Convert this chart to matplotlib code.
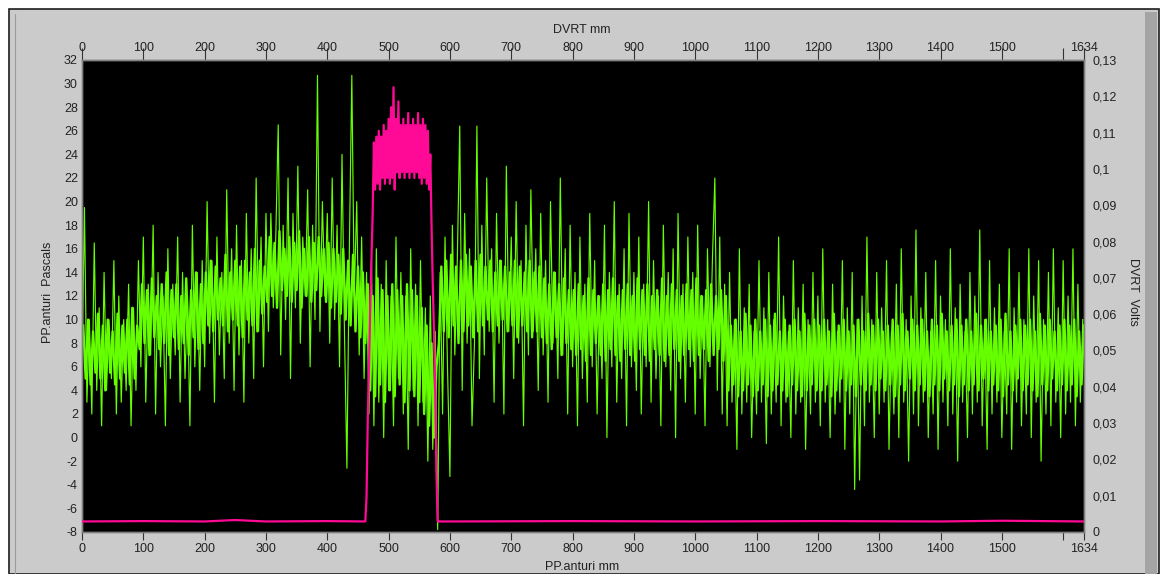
import numpy as np
import matplotlib
matplotlib.use("Agg")
import matplotlib.pyplot as plt
from matplotlib.patches import Rectangle
from matplotlib.lines import Line2D

plt.rcParams['font.family'] = ['Liberation Sans', 'DejaVu Sans']
plt.rcParams['axes.unicode_minus'] = False

# PP.anturi (Pascals), peaks and dips, one reading every 4 mm, 0 .. 1632 mm
green_0 = [6, 19.5, 3, 10, 2, 16.5, 4, 11, 1, 14, 4, 10, 5, 15, 2, 12, 3, 10, 4, 13, 1, 11, 4,
           15, 6, 17, 3, 13, 7, 18, 2, 14, 6, 12, 1, 16, 5, 13, 7, 17, 3, 14, 5, 12, 1, 18, 6, 14, 4, 15,
           6, 20, 8, 15, 3, 17, 7, 14, 5, 21, 8, 16, 4, 18, 7, 15, 3, 19, 8, 16, 5, 22, 9, 17, 6, 19,
           9, 19, 11, 17, 26.5, 7, 18, 10, 22, 5, 19, 11, 23, 8, 17, 12, 21, 6, 18, 10, 30.7, 9, 20, 12]
green_400 = [19, 8, 22, 10, 18, 6, 24, 9, -2.6, 16, 30.7, 12, 20, 7, 17, 5,
             14, 2, 15, 1,
             16, 3, 13, 0, 15, 4, 12, 1, 17, 5, 14, 2, 12, -1, 16, 4, 13, 1, 15, 3, 11,
             -2, 12, -1, 9, -7.8,
             14, 2, 17, 6, -3.3, 18, 7, 15, 26.4, 4, 19, 8, 16, 1, 8, 26.4, 5,
             18, 7, 22, 9, 16, 3, 19, 8, 15, 2, 23, 9, 17, 5, 20, 8, 15, 1, 18, 7, 21, 9, 16, 4, 19,
             7, 15, 3, 20, 8, 14, 5, 22, 7, 16, 2, 18]
green_800 = [6, 14, 1, 17, 5, 13, 3, 19, 6, 15, 2, 12, 5, 18, 0, 14, 6, 20, 3, 13, 5, 16, 1, 19,
             6, 14, 4, 17, 2, 13, 6, 20, 3, 15, 5, 12, 1, 18, 6, 14, 4, 16, 0, 19, 5, 13, 3, 17, 6,
             14, 2, 18, 5, 12, 1, 16, 6, 15, 22, 4, 17, 2, 13,
             1, 14, 3, 10, -1, 16, 2, 11, 3, 13, 0, 9, 2, 15, 3, 11, -0.5, 14, 2, 10, 3, 17, 1, 12,
             3, 9, 0, 15, 2, 11, 3, 13, -1, 10, 2, 14, 3]
green_1200 = [12, 1, 16, 3, 10, 0, 13, 2, 9, 3, 15, -1, 11, 2, 14, -4.4, 10, -3.6, 12, 1, 17, 3,
              10, 0, 14, 2, 11, 3, 15, -1, 9, 2, 13, 0, 16, 3, 10, -2, 12, 2, 17.6, 1, 11, 3, 14,
              0, 9, 2, 15, -1, 12, 3, 10, 1, 16, 2, 11, -2, 13, 3, 9, 0, 14, 2, 12, 3, 17.6, 1,
              10, -1, 15, 2, 11, 3, 13, 0, 9, 2, 16, -1, 11, 3, 14, 1, 10, 2, 16, 0, 12, 3, 15,
              -2, 10, 2, 14, 1, 16, 3, 11, 0, 15, 2, 12, 3, 16, 1, 13, 3, 10]

# PP.anturi dense band, readings in between (2, 6, 10 .. 1634 mm)
core_0 = [9.5, 5, 10, 4.5, 9, 5.5, 10.5, 5, 9.5, 4, 10, 5.5, 9, 4.5, 10.5, 5, 9.5, 5.5, 10, 4.5, 11, 5, 9.5,
          7.5, 13, 8, 12.5, 7, 13.5, 8.5, 12, 7.5, 13, 8, 14, 7, 12.5, 8.5, 13, 7.5, 12, 8, 13.5, 7, 12.5,
          8.5, 14, 7.5, 13, 8,
          14, 9.5, 15, 9, 14.5, 10, 13.5, 9.5, 15.5, 9, 14, 10, 15, 9.5, 14.5, 8.5, 15, 10, 14, 9.5, 16,
          9, 15, 10.5, 14.5,
          11.5, 17, 12, 16.5, 11, 17.5, 12.5, 16, 12, 17, 11.5, 16.5, 12.5, 17.5, 11, 16, 12, 17, 11.5,
          16.5, 12.5, 17, 12, 16, 11.5]
core_400 = [16.5, 11, 16, 11.5, 15.5, 10.5, 16, 10, 15, 9.5, 15.5, 9, 14.5, 8.5, 14, 8,
            13, 4, 12, 3.5, 13.5, 4.5, 12.5, 3, 12, 4, 13, 3.5, 12.5, 4.5, 12, 3, 13, 4, 12.5, 3.5,
            12, 3, 11, 2, 9.5, 1, 8, 0, 6,
            8, 14.5, 9, 15, 8.5, 15.5, 9.5, 14.5, 8, 15, 9, 15.5, 9.5, 14.5, 8.5, 15, 9, 15.5,
            9.5, 14.5, 10, 15, 9, 14, 9.5, 15, 10, 14.5, 9, 14, 9.5, 15, 8.5, 14.5, 9.5, 14, 9, 15,
            8.5, 14, 9, 14.5, 8.5,
            13.5, 8, 13, 7.5, 14, 8.5, 13, 7, 13.5, 8, 12.5, 7.5]
core_800 = [12.5, 7, 13, 7.5, 12, 6.5, 13.5, 7, 12.5, 8, 12, 7, 13, 6.5, 12.5, 7.5, 13.5, 7, 12, 6.5,
            12.5, 7.5, 13, 7, 12, 6.5, 13.5, 7.5, 12.5, 7, 13, 6.5, 12, 7.5, 12.5, 7, 13.5, 6.5, 12, 7,
            13, 7.5, 12.5, 6.5, 12, 7, 13, 7.5, 12.5, 6.5, 13.5, 7, 12, 7.5, 12.5, 6.5, 13, 7, 12, 7.5,
            12.5, 6.5, 12,
            4, 9.5, 4.5, 10, 3.5, 9, 4, 10.5, 4.5, 9.5, 3.5, 10, 4, 9, 4.5, 10, 3.5, 9.5, 4, 10.5,
            4.5, 9, 4, 10, 3.5, 9.5, 4.5, 10, 4, 9, 3.5, 10.5, 4, 9.5, 4.5, 10, 4]
core_1200 = [9.5, 4, 10, 4.5, 9, 3.5, 10.5, 4, 9.5, 5, 10, 4, 9, 4.5, 9.5, 3.5, 10, 4.5, 9, 4,
             10.5, 4.5, 9.5, 4, 10, 5, 9, 4, 9.5, 4.5, 10, 3.5, 9.5, 4.5, 10.5, 4, 9, 5, 10, 4,
             9.5, 4.5, 10, 4, 9, 3.5, 10, 4.5, 9.5, 4, 10.5, 5, 9, 4, 9.5, 4.5, 10, 3.5, 9.5, 4.5,
             10, 4, 9, 4.5, 10.5, 4, 9.5, 5, 10, 4, 9, 4.5, 9.5, 4, 10, 3.5, 10.5, 4.5, 9, 4,
             9.5, 5, 10, 4, 9.5, 4.5, 10, 4, 9, 3.5, 10.5, 4.5, 9.5, 4, 10, 5, 9, 4, 9.5, 4.5,
             10, 4, 9.5, 4.5, 10, 3.5, 9, 4.5, 9.5]

# DVRT (Volts)
dvrt_base_left_mm = [0, 100, 200, 250, 300, 400, 462]
dvrt_base_left = [0.0029, 0.0030, 0.0029, 0.0033, 0.0029, 0.0030, 0.0029]
dvrt_burst = [0.0095, 0.031, 0.0455, 0.0618, 0.0748, 0.0878, 0.1073, 0.0943, 0.1089, 0.0959,
              0.1105, 0.0943, 0.1089, 0.0975, 0.1121, 0.0959, 0.1105, 0.0975, 0.1138, 0.0959,
              0.117, 0.0975, 0.1225, 0.0943, 0.1138, 0.0991, 0.1186, 0.0975, 0.1121, 0.0991,
              0.1138, 0.0975, 0.1121, 0.0991, 0.1154, 0.0975, 0.1121, 0.0991, 0.1138, 0.0975,
              0.1121, 0.0991, 0.1154, 0.0975, 0.1121, 0.0959, 0.1138, 0.0975, 0.1121, 0.0959,
              0.1105, 0.0943, 0.104, 0.0845, 0.0683, 0.0553, 0.039, 0.0163, 0.0029, 0.0029]
dvrt_base_right_mm = [600, 800, 1000, 1200, 1400, 1500, 1634]
dvrt_base_right = [0.0029, 0.0030, 0.0029, 0.0030, 0.0029, 0.0031, 0.0029]

x_ticks = [0, 100, 200, 300, 400, 500, 600, 700, 800, 900, 1000, 1100, 1200, 1300, 1400, 1500, 1600, 1634]
x_labels = ['0', '100', '200', '300', '400', '500', '600', '700', '800', '900', '1000', '1100',
            '1200', '1300', '1400', '1500', '', '1634']
left_ticks = list(range(-8, 33, 2))
right_ticks = [0, 0.01, 0.02, 0.03, 0.04, 0.05, 0.06, 0.07, 0.08, 0.09, 0.1, 0.11, 0.12, 0.13]
right_labels = ['0', '0,01', '0,02', '0,03', '0,04', '0,05', '0,06', '0,07', '0,08', '0,09',
                '0,1', '0,11', '0,12', '0,13']

green = green_0 + green_400 + green_800 + green_1200
gx = np.linspace(0, 1632, len(green))
core = core_0 + core_400 + core_800 + core_1200
cx = np.linspace(2, 1634, len(core))
bx = np.arange(464, 464 + 2 * len(dvrt_burst), 2)
mx = dvrt_base_left_mm + list(bx) + dvrt_base_right_mm
my = dvrt_base_left + dvrt_burst + dvrt_base_right

W, H = 1162, 574
fig = plt.figure(figsize=(W / 100, H / 100), dpi=100, facecolor='white')

# grey panel like the front panel
fig.patches.append(Rectangle((9 / W, 0), 1150 / W, 1 - 9 / H, transform=fig.transFigure,
                             facecolor='#cbcbcb', edgecolor='#1e1e1e', lw=1.2, zorder=-5))
fig.patches.append(Rectangle((1145 / W, 0), 12 / W, 1 - 12 / H, transform=fig.transFigure,
                             facecolor='#a4a4a4', edgecolor='none', zorder=-4))
fig.lines.append(Line2D([15 / W, 15 / W], [0, 1 - 14 / H], transform=fig.transFigure,
                        color='#9c9c9c', lw=0.8, zorder=-4))

ax = fig.add_axes([82 / W, 1 - 532 / H, 1002 / W, 472 / H])
ax.set_facecolor('black')
ax.plot(cx, core, color='#66ff00', lw=1.7, zorder=1)
ax.plot(gx, green, color='#66ff00', lw=0.85, zorder=2)
ax.set_xlim(0, 1634)
ax.set_ylim(-8, 32)
ax.set_yticks(left_ticks)
ax.set_xticks(x_ticks)
ax.set_xticklabels(x_labels)
ax.tick_params(axis='y', length=0, pad=3, labelsize=9, colors='#222222')
ax.tick_params(axis='x', direction='out', length=5.8, pad=2, labelsize=9, colors='#333333',
               labelcolor='#222222')

ax2 = ax.twinx()
ax2.plot(mx, my, color='#ff0a96', lw=1.6, zorder=3)
ax2.set_ylim(0, 0.13)
ax2.set_yticks(right_ticks)
ax2.set_yticklabels(right_labels)
ax2.tick_params(axis='y', length=0, pad=6, labelsize=9, colors='#222222')

top = ax.secondary_xaxis('top')
top.set_xticks(x_ticks)
top.set_xticklabels(x_labels)
top.tick_params(direction='out', length=8.5, pad=-4.3, labelsize=9, colors='#333333',
                labelcolor='#222222')

for a in (ax, ax2):
    for s in a.spines.values():
        s.set_color('#808080')
        s.set_linewidth(1.0)
for s in top.spines.values():
    s.set_color('#808080')

fig.text(582 / W, 1 - 30 / H, 'DVRT mm', ha='center', va='center', fontsize=9, color='#222222')
fig.text(582 / W, 1 - 567 / H, 'PP.anturi mm', ha='center', va='center', fontsize=9, color='#222222')
fig.text(48 / W, 1 - 292 / H, 'PP.anturi  Pascals', rotation=90, ha='center', va='center',
         fontsize=9, color='#222222')
fig.text(1133 / W, 1 - 292 / H, 'DVRT  Volts', rotation=270, ha='center', va='center',
         fontsize=9, color='#222222')

fig.savefig('out.png', dpi=100, facecolor=fig.get_facecolor())
